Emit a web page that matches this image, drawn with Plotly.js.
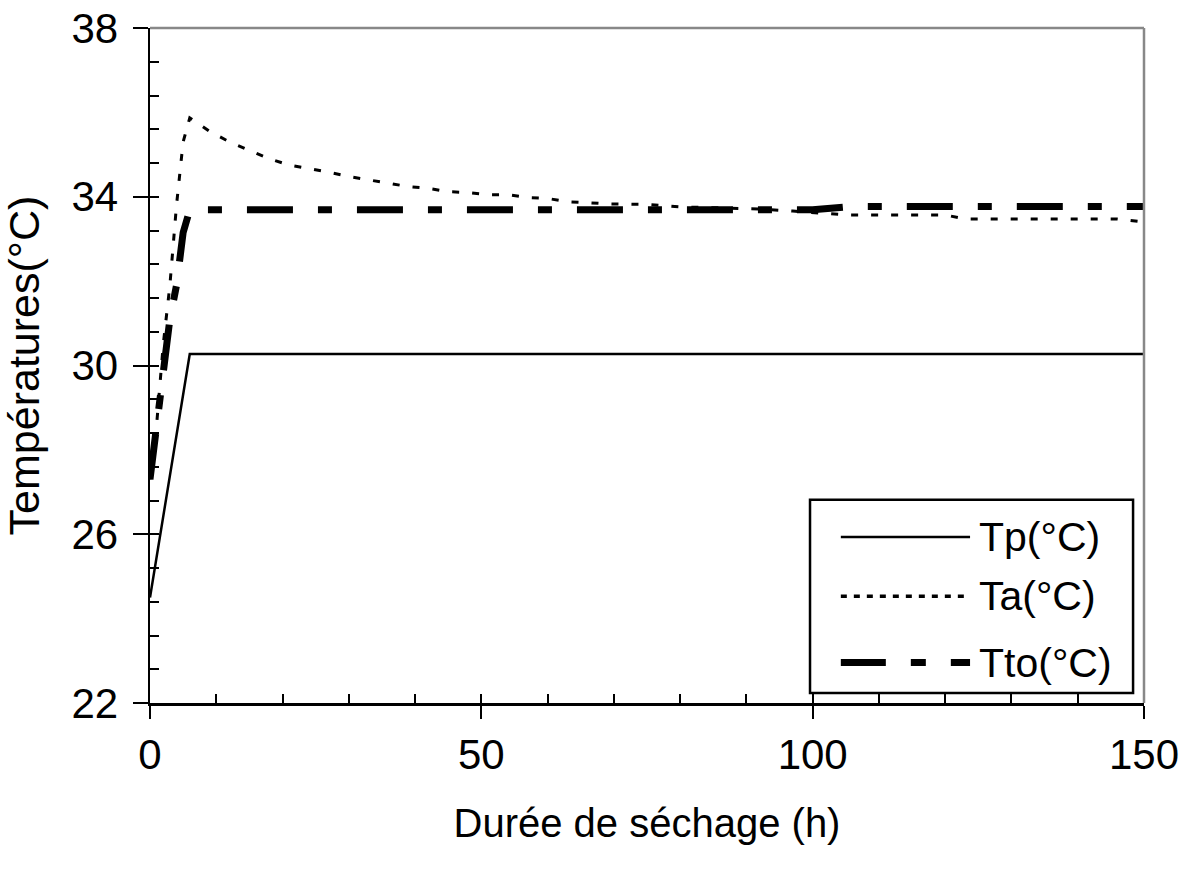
<!DOCTYPE html>
<html>
<head>
<meta charset="utf-8">
<script src="https://cdn.plot.ly/plotly-3.0.1.min.js"></script>
<style>html,body{margin:0;padding:0;background:#fff;}#chart{width:1186px;height:869px;}</style>
</head>
<body>
<div id="chart"></div>
<script>
// Data
const tpX = [0, 6, 150];
const tpY = [24.5, 30.27, 30.27];

const taX = [0, 1, 2, 3, 4, 5, 6, 9, 12, 15, 18, 21, 24, 27, 30, 33, 36, 39, 42, 45, 48, 51, 54, 57, 60, 63, 66, 69, 75, 80, 85, 92, 97, 100, 105, 120, 123, 146, 150];
const taY = [27.3, 28.6, 30.5, 31.9, 33.8, 35.3, 35.87, 35.55, 35.3, 35.1, 34.9, 34.75, 34.67, 34.58, 34.48, 34.4, 34.33, 34.24, 34.2, 34.12, 34.1, 34.05, 34.05, 33.98, 33.96, 33.88, 33.86, 33.83, 33.82, 33.76, 33.74, 33.71, 33.66, 33.63, 33.57, 33.57, 33.47, 33.47, 33.4];

const ttoX = [0, 1, 2, 3, 4, 5, 6, 100, 106, 150];
const ttoY = [27.3, 28.6, 29.85, 31.1, 31.9, 33.15, 33.69, 33.69, 33.77, 33.77];

const seriesNames = ['Tp(°C)', 'Ta(°C)', 'Tto(°C)'];
const xTitle = 'Durée de séchage (h)';
const yTitle = 'Températures(°C)';

const FONT = 'Liberation Sans, Arial, sans-serif';
const dashTa = '7px,13px';
const dashTto = '46px,25px,14px,25px';

const traces = [
  {x: tpX, y: tpY, name: seriesNames[0], mode: 'lines', line: {color: '#000', width: 2.5}},
  {x: taX, y: taY, name: seriesNames[1], mode: 'lines', line: {color: '#000', width: 3, dash: dashTa}},
  {x: ttoX, y: ttoY, name: seriesNames[2], mode: 'lines', line: {color: '#000', width: 7, dash: dashTto}}
];

// custom legend geometry (paper coordinates)
const lgX0 = 0.664, lgX1 = 0.989, lgY0 = 0.015, lgY1 = 0.301;
const rowY = [0.246, 0.158, 0.06];
const sampleX0 = 0.695, sampleX1 = 0.825, textX = 0.832;
const legendDash = ['solid', '6px,7px', '45px,25px,15px,25px'];
const legendWidth = [2.5, 3.5, 7];

const shapes = [
  {type: 'line', xref: 'paper', yref: 'paper', x0: 0, x1: 1, y0: 1, y1: 1, line: {color: '#888', width: 2.5}},
  {type: 'line', xref: 'paper', yref: 'paper', x0: 1, x1: 1, y0: 0, y1: 1, line: {color: '#888', width: 2.5}},
  {type: 'rect', xref: 'paper', yref: 'paper', x0: lgX0, x1: lgX1, y0: lgY0, y1: lgY1, line: {color: '#000', width: 2.5}, fillcolor: '#fff', layer: 'above'}
];
const annotations = [];
seriesNames.forEach((n, i) => {
  shapes.push({type: 'line', xref: 'paper', yref: 'paper', x0: sampleX0, x1: sampleX1, y0: rowY[i], y1: rowY[i],
    line: {color: '#000', width: legendWidth[i], dash: legendDash[i]}, layer: 'above'});
  annotations.push({xref: 'paper', yref: 'paper', x: textX, y: rowY[i], xanchor: 'left', yanchor: 'middle',
    text: n, showarrow: false, font: {family: FONT, size: 41, color: '#000'}});
});

const layout = {
  width: 1186, height: 869,
  margin: {l: 150, r: 42, t: 28, b: 166, pad: 0},
  paper_bgcolor: '#fff', plot_bgcolor: '#fff',
  showlegend: false,
  font: {family: FONT, size: 42, color: '#000'},
  xaxis: {
    range: [0, 150], dtick: 50, tick0: 0, showgrid: false, zeroline: false,
    showline: true, linecolor: '#000', linewidth: 2.5,
    ticks: 'outside', ticklen: 13, tickwidth: 2, tickcolor: '#000',
    ticklabelstandoff: 0,
    tickfont: {family: FONT, size: 42, color: '#000'},
    title: {text: xTitle, font: {family: FONT, size: 40, color: '#000'}, standoff: 32}
  },
  yaxis: {
    range: [22, 38], dtick: 4, tick0: 22, showgrid: false, zeroline: false,
    showline: true, linecolor: '#000', linewidth: 2.5,
    ticks: 'outside', ticklen: 15, tickwidth: 2, tickcolor: '#000',
    ticklabelstandoff: 6,
    tickfont: {family: FONT, size: 42, color: '#000'},
    title: {text: yTitle, font: {family: FONT, size: 43, color: '#000'}, standoff: 24}
  },
  xaxis2: {
    overlaying: 'x', matches: 'x', range: [0, 150], dtick: 10, tick0: 0, showgrid: false, zeroline: false,
    showline: false, ticks: 'inside', ticklen: 9, tickwidth: 2, tickcolor: '#000', showticklabels: false, anchor: 'y'
  },
  yaxis2: {
    overlaying: 'y', range: [22, 38], dtick: 0.8, tick0: 22, showgrid: false, zeroline: false,
    showline: false, ticks: 'inside', ticklen: 9, tickwidth: 2, tickcolor: '#000', showticklabels: false, anchor: 'x'
  },
  shapes: shapes,
  annotations: annotations
};

// invisible trace to activate overlay axes
traces.push({x: [0], y: [22], xaxis: 'x2', yaxis: 'y2', mode: 'markers', marker: {opacity: 0}, hoverinfo: 'skip', showlegend: false});

Plotly.newPlot('chart', traces, layout, {displayModeBar: false, staticPlot: true});
</script>
</body>
</html>
